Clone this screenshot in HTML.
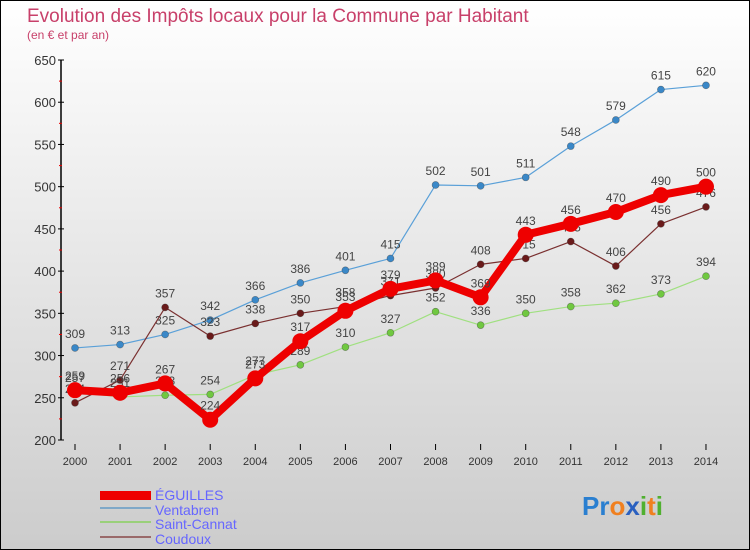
<!DOCTYPE html>
<html><head><meta charset="utf-8"><style>
body{margin:0}
svg{display:block;font-family:"Liberation Sans",sans-serif}
</style></head><body>
<svg id="c" width="750" height="550">
<defs><linearGradient id="bg" x1="0" y1="0" x2="0" y2="1"><stop offset="0" stop-color="#ffffff"/><stop offset="1" stop-color="#cccccc"/></linearGradient></defs>
<rect x="0.5" y="0.5" width="749" height="549" fill="url(#bg)" stroke="#000"/>
<text x="27" y="22" font-size="19" fill="#c8406a">Evolution des Impôts locaux pour la Commune par Habitant</text>
<text x="27" y="39" font-size="12" fill="#c8406a">(en € et par an)</text>
<g id="axes"></g><g id="series"></g>
<g font-size="14" fill="#6666ff">
<rect x="100" y="491" width="51" height="9" fill="#ee0000"/>
<text x="155" y="500">ÉGUILLES</text>
<rect x="100" y="507" width="51" height="2" fill="#7fa8c8"/>
<text x="155" y="515">Ventabren</text>
<rect x="100" y="521" width="51" height="2" fill="#9ad07a"/>
<text x="155" y="529">Saint-Cannat</text>
<rect x="100" y="536" width="51" height="2" fill="#9a6a6a"/>
<text x="155" y="544">Coudoux</text>
</g>
<text x="582" y="515" font-size="26" font-weight="bold"><tspan fill="#2a7fd0">Pr</tspan><tspan fill="#f08020">o</tspan><tspan fill="#2a60c0">x</tspan><tspan fill="#50b030">i</tspan><tspan fill="#f08020">t</tspan><tspan fill="#50b030">i</tspan></text>
</svg>
<script>
const years=["2000","2001","2002","2003","2004","2005","2006","2007","2008","2009","2010","2011","2012","2013","2014"];
const yTicks=[200,250,300,350,400,450,500,550,600,650];
const eguilles=[259,256,267,224,273,317,353,379,389,369,443,456,470,490,500];
const ventabren=[309,313,325,342,366,386,401,415,502,501,511,548,579,615,620];
const saintCannat=[257,251,253,254,277,289,310,327,352,336,350,358,362,373,394];
const coudoux=[244,271,357,323,338,350,358,371,380,408,415,435,406,456,476];
const NS="http://www.w3.org/2000/svg";
const xPos=i=>75+i*45.07;
const yPos=v=>440-(v-200)*380/450;
function mk(tag,attrs,parent){const e=document.createElementNS(NS,tag);for(const k in attrs)e.setAttribute(k,attrs[k]);parent.appendChild(e);return e;}
const ax=document.getElementById('axes');
let a=mk('line',{x1:61,y1:yPos(650),x2:61,y2:440,stroke:'#000','stroke-width':1.5},ax);


yTicks.forEach(v=>{
 let t=mk('line',{x1:58,x2:64,y1:yPos(v),y2:yPos(v),stroke:'#000'},ax);
 
 
 if(v<650){let m=mk('line',{x1:59,x2:62,y1:yPos(v+25),y2:yPos(v+25),stroke:'#e00'},ax);
 
 }
 let l=mk('text',{x:56,y:yPos(v)+5,'font-size':13,fill:'#333','text-anchor':'end'},ax);
 l.textContent=v;
 
 
});
years.forEach((y,i)=>{
 let t=mk('line',{x1:xPos(i),x2:xPos(i),y1:444,y2:450,stroke:'#000'},ax);
 
 
 let l=mk('text',{x:xPos(i),y:465,'font-size':11,fill:'#333','text-anchor':'middle'},ax);
 l.textContent=y;
 
 
});
const sg=document.getElementById('series');
function draw(data,name,color,pcolor,w,r){
 const g=mk('g',{},sg);
 
 
 let p=mk('polyline',{points:data.map((v,i)=>xPos(i)+','+yPos(v)).join(' '),fill:'none',stroke:color,'stroke-width':w,'stroke-linejoin':'round'},g);
 
 
 data.forEach((v,i)=>{
  let c=mk('circle',{cx:xPos(i),cy:yPos(v),r:r,fill:pcolor,stroke:'#333','stroke-opacity':r>5?0:0.5,'stroke-width':0.6},g);
  
  
  let t=mk('text',{x:xPos(i),y:yPos(v)-10,'font-size':12,fill:'#444','text-anchor':'middle'},g);
  t.textContent=v;
  
  
 });
}
draw(ventabren,'ventabren','#5aa0d8','#3a88c8',1.2,3.5);
draw(saintCannat,'saint-cannat','#a0e080','#70c840',1.2,3.5);
draw(coudoux,'coudoux','#7a3030','#6a1a1a',1.2,3.5);
draw(eguilles,'eguilles','#ee0000','#ee0000',8,8);
</script>
</body></html>
